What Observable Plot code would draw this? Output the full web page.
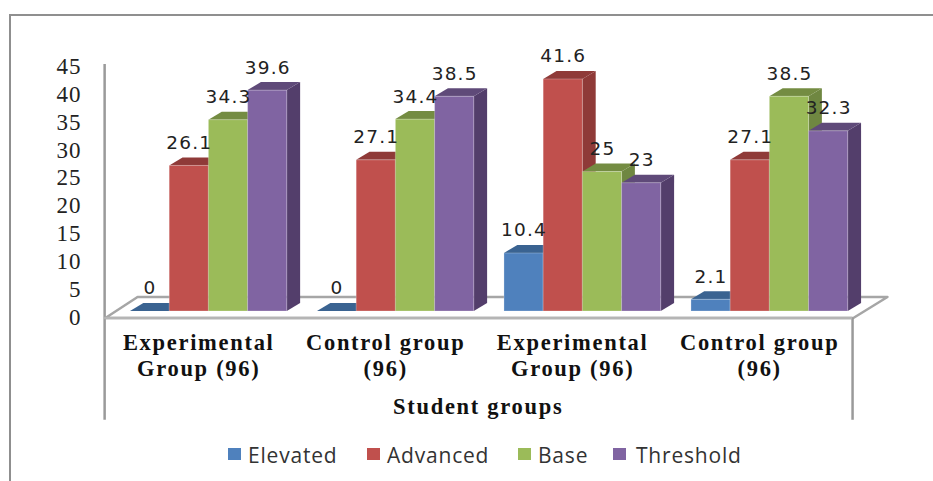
<!DOCTYPE html>
<html>
<head>
<meta charset="utf-8">
<script src="https://cdn.jsdelivr.net/npm/d3@7"></script>
<script src="https://cdn.jsdelivr.net/npm/@observablehq/plot@0.6"></script>
<style>
html,body{margin:0;padding:0;background:#fff;overflow:hidden}
#page{position:relative;width:933px;height:481px;overflow:hidden}
#frame{position:absolute;left:9px;top:14px;right:-5px;bottom:-5px;border:solid #8f8f8f;border-width:2.5px 0 0 2.5px}
#chart{position:absolute;left:0;top:0}
#legend{position:absolute;top:443px;left:0;height:24px;width:933px;font:21px "Open Sans",sans-serif;color:#333}
#legend span{position:absolute;top:0;letter-spacing:.8px;line-height:24px;white-space:nowrap}
#legend i{position:absolute;top:5px;width:13px;height:12px}
</style>
</head>
<body>
<div id="page"><div id="chart"></div><div id="frame"></div><div id="legend"></div></div>
<script>
const groups = ["Experimental\nGroup (96)", "Control group\n(96)", "Experimental\nGroup (96)", "Control group\n(96)"];
const series = ["Elevated", "Advanced", "Base", "Threshold"];
const elevated = [0, 0, 10.4, 2.1];
const advanced = [26.1, 27.1, 41.6, 27.1];
const base = [34.3, 34.4, 25, 38.5];
const threshold = [39.6, 38.5, 23, 32.3];
const axisTicks = [0, 5, 10, 15, 20, 25, 30, 35, 40, 45];
const axisTitle = "Student groups";
const front = ["#4F81BD", "#C0504D", "#9BBB59", "#8064A2"];
const topFace = ["#3A6391", "#8F3A38", "#748C42", "#5F4A79"];
const sideFace = ["#3A6391", "#8F3A38", "#6F8741", "#533E6B"];

const values = [elevated, advanced, base, threshold];
const groupStep = 4.77, depthX = 0.34, depthY = 1.44;
const rows = groups.flatMap((g, gi) => series.map((s, si) => ({
  gi, si, s, v: values[si][gi], x1: gi * groupStep + si, x2: gi * groupStep + si + 1
})));

const floor = [[-0.64, -1.17], [0.18, 2.6], [19.31, 2.6], [18.44, -1.17]];
const wallX = -0.66, wallRight = 18.42, wallBottom = -19.5, wallTop = 44.3, frontY = -1.17;

const barMarks = rows.flatMap(r => {
  const {x1, x2, v} = r;
  const side = [
    {x: x2, a: 0, b: v},
    {x: x2 + depthX, a: depthY, b: v + depthY}
  ];
  const top = [
    {x: x1, a: v, b: v},
    {x: x1 + depthX, a: v, b: v + depthY},
    {x: x2, a: v, b: v + depthY},
    {x: x2 + depthX, a: v + depthY, b: v + depthY}
  ];
  const m = [
    Plot.areaY(side, {x: "x", y1: "a", y2: "b", fill: sideFace[r.si]}),
    Plot.areaY(top, {x: "x", y1: "a", y2: "b", fill: topFace[r.si]})
  ];
  if (v > 0) m.push(Plot.rect([r], {x1: "x1", x2: "x2", y1: 0, y2: "v", fill: front[r.si], stroke: "#ffffff", strokeOpacity: 0.25, strokeWidth: 1}));
  return m;
});

const plot = Plot.plot({
  width: 933, height: 440,
  marginLeft: 81, marginRight: 0, marginTop: 0, marginBottom: 0,
  x: {domain: [0, 20], range: [130, 914], axis: null},
  y: {domain: [0, 45], range: [311, 60], axis: null},
  style: {background: "transparent", overflow: "visible"},
  marks: [
    Plot.line([...floor, floor[0]], {x: d => d[0], y: d => d[1], stroke: "#a6a6a6", strokeWidth: 2.5, fill: "#fff", curve: "linear"}),
    Plot.ruleX([wallX], {y1: wallBottom, y2: wallTop, stroke: "#9a9a9a", strokeWidth: 2.5}),
    Plot.ruleX([wallRight], {y1: wallBottom, y2: frontY, stroke: "#9a9a9a", strokeWidth: 2.5}),
    Plot.ruleY([frontY], {x1: wallX, x2: wallRight, stroke: "#b5b5b5", strokeWidth: 2.5}),
    ...barMarks,
    Plot.axisY({ticks: axisTicks, tickSize: 0, tickPadding: 0, dy: 6, label: null, anchor: "left", fontSize: 23, fontFamily: "Liberation Serif", fill: "#222", tickFormat: d => String(d)}),
    Plot.text(rows, {x: d => d.x1 + 0.5, y: "v", text: d => String(d.v), dy: -23, fontSize: 18.5, fontFamily: "DejaVu Sans", fill: "#222"}),
    Plot.text(groups, {x: (d, i) => i * groupStep + 1.74, y: -7.8, text: d => d, lineAnchor: "middle", fontSize: 22.5, fontWeight: "bold", fontFamily: "Liberation Serif", fill: "#111", lineHeight: 1.12}),
    Plot.text([axisTitle], {x: 8.87, y: -17.1, text: d => d, fontSize: 22.5, fontWeight: "bold", fontFamily: "Liberation Serif", fill: "#111"})
  ]
});
const spacing = {"23": "1px", "18.5": "1.2px", "22.5": "1.7px"};
plot.querySelectorAll("text").forEach(t => {
  const holder = t.closest("[font-size]");
  const sz = holder && holder.getAttribute("font-size");
  if (spacing[sz]) t.style.letterSpacing = spacing[sz];
});
document.getElementById("chart").append(plot);

const legendPos = [[228, 248], [367, 387], [518, 538], [613, 636]];
const legend = document.getElementById("legend");
series.forEach((s, i) => {
  const sw = document.createElement("i");
  sw.style.left = legendPos[i][0] + "px";
  sw.style.background = front[i];
  const t = document.createElement("span");
  t.style.left = legendPos[i][1] + "px";
  t.textContent = s;
  legend.append(sw, t);
});
</script>
</body>
</html>
